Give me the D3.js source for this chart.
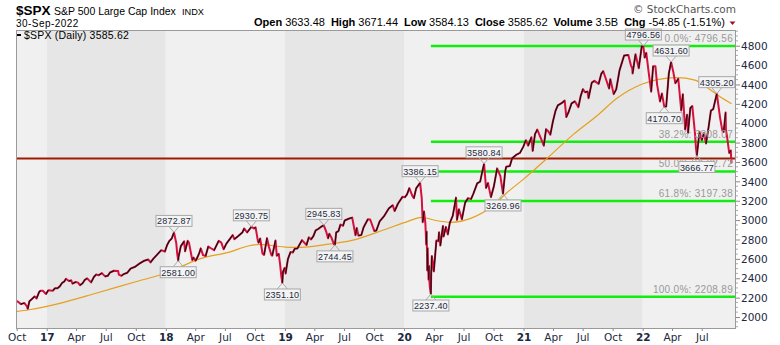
<!DOCTYPE html>
<html><head><meta charset="utf-8">
<script src="https://cdn.jsdelivr.net/npm/d3@7"></script>
<style>body{margin:0;background:#fff;}svg{display:block;}</style>
</head><body>
<svg id="c" width="780" height="345"></svg>
<script>
// ---------- DATA ----------
const priceDates = ["2016-09-29","2016-09-30","2016-10-07","2016-10-14","2016-10-21","2016-10-25","2016-11-01","2016-11-04","2016-11-09","2016-11-15","2016-11-25","2016-12-01","2016-12-09","2016-12-13","2016-12-20","2016-12-30",
"2017-01-06","2017-01-13","2017-01-20","2017-01-26","2017-02-03","2017-02-10","2017-02-17","2017-02-24","2017-03-01","2017-03-10","2017-03-17","2017-03-21","2017-03-31","2017-04-07","2017-04-13","2017-04-21","2017-04-28","2017-05-05","2017-05-17","2017-05-26","2017-06-02","2017-06-09","2017-06-19","2017-06-29","2017-07-07","2017-07-14","2017-07-26","2017-08-08","2017-08-10","2017-08-18","2017-08-25","2017-09-05","2017-09-15","2017-09-29","2017-10-13","2017-10-27","2017-11-08","2017-11-15","2017-11-24","2017-12-04","2017-12-18","2017-12-29",
"2018-01-05","2018-01-12","2018-01-19","2018-01-26","2018-02-02","2018-02-05","2018-02-08","2018-02-09","2018-02-16","2018-02-26","2018-03-01","2018-03-09","2018-03-13","2018-03-23","2018-03-27","2018-04-02","2018-04-06","2018-04-13","2018-04-18","2018-04-25","2018-05-03","2018-05-11","2018-05-18","2018-05-29","2018-06-12","2018-06-20","2018-06-27","2018-07-06","2018-07-17","2018-07-25","2018-07-30","2018-08-10","2018-08-24","2018-08-29","2018-09-07","2018-09-20","2018-09-28","2018-10-03","2018-10-10","2018-10-12","2018-10-17","2018-10-24","2018-10-29","2018-11-07","2018-11-13","2018-11-20","2018-11-23","2018-12-03","2018-12-07","2018-12-13","2018-12-17","2018-12-21","2018-12-24","2018-12-26","2018-12-31",
"2019-01-03","2019-01-10","2019-01-18","2019-01-25","2019-01-31","2019-02-08","2019-02-22","2019-03-08","2019-03-15","2019-03-22","2019-03-29","2019-04-05","2019-04-12","2019-04-23","2019-04-30","2019-05-07","2019-05-13","2019-05-17","2019-05-23","2019-05-31","2019-06-03","2019-06-07","2019-06-14","2019-06-20","2019-06-28","2019-07-03","2019-07-15","2019-07-26","2019-08-05","2019-08-09","2019-08-14","2019-08-23","2019-08-30","2019-09-12","2019-09-19","2019-10-02","2019-10-08","2019-10-18","2019-10-31","2019-11-15","2019-11-27","2019-12-03","2019-12-13","2019-12-27",
"2020-01-03","2020-01-10","2020-01-17","2020-01-27","2020-01-31","2020-02-07","2020-02-19","2020-02-24","2020-02-27","2020-03-02","2020-03-06","2020-03-09","2020-03-10","2020-03-12","2020-03-13","2020-03-16","2020-03-17","2020-03-18","2020-03-20","2020-03-23","2020-03-24","2020-03-26","2020-04-01","2020-04-09","2020-04-15","2020-04-17","2020-04-21","2020-04-29","2020-05-01","2020-05-08","2020-05-14","2020-05-20","2020-05-29","2020-06-08","2020-06-11","2020-06-17","2020-06-26","2020-07-06","2020-07-15","2020-07-24","2020-07-31","2020-08-12","2020-08-21","2020-08-28","2020-09-02","2020-09-08","2020-09-14","2020-09-23","2020-10-02","2020-10-12","2020-10-22","2020-10-30","2020-11-06","2020-11-09","2020-11-20","2020-11-27","2020-12-09","2020-12-21","2020-12-31",
"2021-01-08","2021-01-15","2021-01-25","2021-01-29","2021-02-05","2021-02-12","2021-02-25","2021-03-04","2021-03-11","2021-03-18","2021-03-24","2021-04-01","2021-04-09","2021-04-16","2021-04-29","2021-05-07","2021-05-12","2021-05-19","2021-05-28","2021-06-07","2021-06-18","2021-06-25","2021-07-02","2021-07-08","2021-07-16","2021-07-19","2021-07-29","2021-08-06","2021-08-19","2021-08-27","2021-09-02","2021-09-10","2021-09-20","2021-09-24","2021-10-04","2021-10-12","2021-10-22","2021-11-05","2021-11-18","2021-11-26","2021-11-30","2021-12-01","2021-12-10","2021-12-20","2021-12-29",
"2022-01-03","2022-01-07","2022-01-12","2022-01-19","2022-01-27","2022-02-02","2022-02-09","2022-02-14","2022-02-23","2022-03-01","2022-03-08","2022-03-14","2022-03-22","2022-03-29","2022-04-05","2022-04-11","2022-04-20","2022-04-29","2022-05-04","2022-05-11","2022-05-17","2022-05-20","2022-05-27","2022-06-02","2022-06-10","2022-06-13","2022-06-16","2022-06-24","2022-07-01","2022-07-08","2022-07-14","2022-07-22","2022-07-29","2022-08-05","2022-08-16","2022-08-26","2022-09-02","2022-09-06","2022-09-12","2022-09-13","2022-09-16","2022-09-23","2022-09-28","2022-09-29","2022-09-30"];
const priceCloses = [2151,2168,2153,2133,2141,2143,2111,2085,2163,2180,2213,2191,2259,2271,2270,2238,
2277,2274,2271,2296,2297,2316,2351,2367,2395,2372,2378,2344,2362,2355,2328,2348,2384,2399,2357,2415,2439,2431,2453,2419,2425,2459,2477,2474,2438,2425,2443,2457,2500,2519,2553,2581,2594,2564,2602,2639,2690,2674,
2743,2786,2810,2873,2762,2649,2581,2620,2732,2780,2678,2786,2765,2588,2613,2582,2604,2656,2708,2639,2630,2728,2712,2690,2786,2767,2699,2760,2809,2846,2803,2833,2875,2914,2872,2931,2914,2925,2786,2767,2810,2656,2641,2814,2722,2642,2633,2790,2633,2651,2546,2417,2351,2468,2507,
2448,2597,2671,2665,2704,2708,2793,2743,2822,2801,2834,2893,2907,2934,2946,2884,2812,2860,2822,2752,2744,2873,2887,2954,2942,2996,3014,3026,2844,2919,2840,2847,2926,3009,3006,2887,2893,2986,3038,3120,3154,3093,3169,3240,
3235,3265,3330,3244,3226,3328,3386,3226,2979,3090,2972,2747,2882,2481,2711,2386,2529,2398,2305,2237,2447,2630,2471,2790,2783,2875,2737,2940,2830,2930,2852,2972,3044,3232,3002,3113,3009,3180,3227,3216,3271,3380,3397,3508,3581,3332,3383,3237,3348,3534,3453,3270,3510,3551,3558,3638,3673,3694,3756,
3825,3768,3855,3714,3887,3934,3829,3768,3939,3915,3881,4020,4129,4185,4211,4233,4063,4116,4204,4226,4166,4281,4352,4320,4327,4258,4419,4437,4406,4509,4537,4459,4358,4455,4300,4351,4545,4698,4704,4595,4567,4513,4712,4568,4793,
4797,4677,4726,4533,4326,4589,4587,4401,4225,4306,4171,4173,4512,4632,4525,4413,4459,4132,4300,3935,4088,3901,4158,4177,3901,3750,3667,3912,3825,3899,3790,3962,4130,4145,4305,4058,3924,3909,4110,3932,3873,3693,3719,3640,3586];

// 200-day moving average
const maDates = ["2016-09-29","2016-11-08","2017-02-10","2017-06-01","2017-10-01","2017-12-31","2018-04-15","2018-07-20","2018-09-10","2018-10-15","2018-12-01","2019-01-15","2019-02-20","2019-05-01","2019-07-25","2019-11-01","2020-01-15","2020-02-25","2020-04-01","2020-05-25","2020-07-25","2020-09-30","2020-11-10","2020-12-31","2021-03-15","2021-06-01","2021-08-15","2021-10-15","2021-12-31","2022-02-15","2022-04-15","2022-06-10","2022-07-25","2022-08-25","2022-09-30"];
const maValues = [2055,2075,2141,2245,2364,2451,2600,2675,2733,2750,2733,2719,2719,2745,2790,2900,2990,3029,3001,2977,3020,3150,3280,3420,3640,3880,4080,4260,4405,4450,4470,4445,4350,4275,4200];

const fibPcts = ["0.0%","38.2%","50.0%","61.8%","100.0%"];
const fibLevels = [4796.56,3808.07,3502.72,3197.38,2208.89];
const fibStart = "2020-03-23";
const hLineLevel = 3636.87;

const annDates = ["2018-01-26","2018-02-08","2018-09-20","2018-12-24","2019-04-30","2019-06-03","2020-02-19","2020-03-23","2020-09-02","2020-10-30","2022-01-03","2022-03-08","2022-03-29","2022-06-16","2022-08-16"];
const annValues = [2872.87,2581.00,2930.75,2351.10,2945.83,2744.45,3386.15,2237.40,3580.84,3269.96,4796.56,4170.70,4631.60,3666.77,4305.20];
const annSide = ["up","down","up","down","up","down","up","down","up","down","up","down","up","down","up"];

const yTicks = [2000,2200,2400,2600,2800,3000,3200,3400,3600,3800,4000,4200,4400,4600,4800];
const xTickDates = ["2016-10-01","2017-01-01","2017-04-01","2017-07-01","2017-10-01","2018-01-01","2018-04-01","2018-07-01","2018-10-01","2019-01-01","2019-04-01","2019-07-01","2019-10-01","2020-01-01","2020-04-01","2020-07-01","2020-10-01","2021-01-01","2021-04-01","2021-07-01","2021-10-01","2022-01-01","2022-04-01","2022-07-01"];
const xTickLabels = ["Oct","17","Apr","Jul","Oct","18","Apr","Jul","Oct","19","Apr","Jul","Oct","20","Apr","Jul","Oct","21","Apr","Jul","Oct","22","Apr","Jul"];
const yearBands = [2016,2017,2018,2019,2020,2021,2022];

const headerLabels = ["Open","High","Low","Close","Volume","Chg"];
const headerValues = ["3633.48","3671.44","3584.13","3585.62","3.5B","-54.85 (-1.51%)"];

// ---------- DRAW ----------
const parse = d3.timeParse("%Y-%m-%d");
const svg = d3.select("#c");
const L = 16, R = 736, T = 30, B = 329;
const x = d3.scaleTime().domain([parse("2017-01-01"), parse("2022-01-01")]).range([46.7, 642.7]);
const y = d3.scaleLinear().domain([2000, 4800]).range([317, 45.7]);
const textCol = "#1c2940";
const sans = "Liberation Sans, Arial, sans-serif";

svg.append("clipPath").attr("id","clip").append("rect").attr("x",L).attr("y",T).attr("width",R-L).attr("height",B-T);
const plot = svg.append("g").attr("clip-path","url(#clip)");

// year bands
yearBands.forEach((yr,i)=>{
  const x0 = Math.max(L, x(parse(yr+"-01-01"))), x1 = Math.min(R, x(parse((yr+1)+"-01-01")));
  plot.append("rect").attr("x",x0).attr("y",T).attr("width",x1-x0).attr("height",B-T)
    .attr("fill", i%2===0 ? "#f0f0f0" : "#e6e6e6");
});

// horizontal dark-red line
plot.append("line").attr("x1",L).attr("x2",R).attr("y1",y(hLineLevel)).attr("y2",y(hLineLevel))
  .attr("stroke","#a01a00").attr("stroke-width",2);

// fib lines
fibLevels.forEach((v,i)=>{
  plot.append("line").attr("x1",x(parse(fibStart))).attr("x2",R-1).attr("y1",y(v)).attr("y2",y(v))
    .attr("stroke","#10ee10").attr("stroke-width",2.5);
});

// moving average
const maData = maDates.map((d,i)=>({d:parse(d),v:maValues[i]}));
plot.append("path").datum(maData).attr("fill","none").attr("stroke","#e4a020").attr("stroke-width",1.2)
  .attr("d", d3.line().x(p=>x(p.d)).y(p=>y(p.v)).curve(d3.curveMonotoneX));

// price line: red base, black on up moves
const pd = priceDates.map((d,i)=>({d:parse(d),v:priceCloses[i]}));
const pline = d3.line().x(p=>x(p.d)).y(p=>y(p.v));
plot.append("path").attr("fill","none").attr("stroke","#d4103c").attr("stroke-width",2)
  .attr("stroke-linejoin","round").attr("d", pline(pd));
let runs = [], cur = null;
for (let i=1;i<pd.length;i++){
  const up = pd[i].v >= pd[i-1].v;
  if (!cur || cur.up !== up){ cur = {up, pts:[pd[i-1]]}; runs.push(cur); }
  cur.pts.push(pd[i]);
}
runs.filter(r=>r.up).forEach(r=>{
  plot.append("path").attr("fill","none").attr("stroke","#111")
    .attr("stroke-width",1.1).attr("stroke-linejoin","round").attr("d", pline(r.pts));
});

// fib labels
fibLevels.forEach((v,i)=>{
  plot.append("text").attr("x",R-3).attr("y",y(v)-4).attr("text-anchor","end")
    .attr("font-family",sans).attr("font-size",10).attr("fill","#999")
    .attr("letter-spacing",0.3)
    .text(fibPcts[i]+": "+d3.format(".2f")(v));
});

// annotations
const ag = svg.append("g");
annDates.forEach((d,i)=>{
  const px = x(parse(d)), py = y(annValues[i]);
  const txt = d3.format(".2f")(annValues[i]);
  const w = 36, h = 11, off = 6;
  const by = annSide[i]==="up" ? py - off - h : py + off;
  const edge = annSide[i]==="up" ? by + h : by;
  ag.append("path").attr("d",`M${px-5},${edge} L${px},${py} L${px+5},${edge}`)
    .attr("fill","none").attr("stroke","#aaa").attr("stroke-width",1);
  ag.append("rect").attr("x",px-w/2).attr("y",by).attr("width",w).attr("height",h)
    .attr("fill","#f4f4f4").attr("stroke","#a8a8a8").attr("stroke-width",1);
  ag.append("text").attr("x",px).attr("y",by+h-2).attr("text-anchor","middle")
    .attr("font-family",sans).attr("font-size",9).attr("fill",textCol)
    .attr("letter-spacing",0.2).text(txt);
});

// plot border
svg.append("rect").attr("x",L+0.5).attr("y",T+0.5).attr("width",R-L-1).attr("height",B-T-1)
  .attr("fill","none").attr("stroke","#9a9a9a");

// legend
svg.append("line").attr("x1",L+1).attr("x2",L+5).attr("y1",35).attr("y2",35).attr("stroke","#000").attr("stroke-width",2);
svg.append("text").attr("x",24).attr("y",38.5).attr("font-family",sans)
  .attr("font-size",10.5).attr("fill","#000").attr("letter-spacing",0.2)
  .text("$SPX (Daily) 3585.62");

// y axis
const yAxis = d3.axisRight(y).tickValues(yTicks).tickSize(4).tickFormat(d3.format("d"));
const yg = svg.append("g").attr("transform",`translate(${R},0)`).call(yAxis);
yg.select(".domain").remove();
yg.selectAll("line").attr("stroke","#888");
yg.selectAll("text").attr("font-family","DejaVu Sans, sans-serif").attr("font-size",10.5)
  .attr("fill",textCol).attr("x",5).attr("dy","0.35em");
const minor = d3.range(1900, 4960, 50).filter(v=>v%200!==0);
svg.append("g").selectAll("line").data(minor).join("line")
  .attr("x1",R).attr("x2",R+2).attr("y1",v=>y(v)).attr("y2",v=>y(v)).attr("stroke","#aaa");

// x axis
const xAxis = d3.axisBottom(x).tickValues(xTickDates.map(parse)).tickSize(2)
  .tickFormat((d,i)=>xTickLabels[i]);
const xg = svg.append("g").attr("transform",`translate(0,${B})`).call(xAxis);
xg.select(".domain").remove();
xg.selectAll("line").attr("stroke","#888");
xg.selectAll("text").attr("font-family","DejaVu Sans, sans-serif").attr("font-size",10.5)
  .attr("fill",textCol).attr("y",5).attr("dy","0.71em")
  .attr("font-weight",(d,i)=>/^\d+$/.test(xTickLabels[i])?"bold":"normal");

// header
svg.append("text").attr("x",16).attr("y",14.5).attr("font-family",sans).attr("font-weight","bold")
  .attr("font-size",13.5).text("$SPX");
svg.append("text").attr("x",54).attr("y",14.5).attr("font-family",sans).attr("font-size",10.5)
  .text("S&P 500 Large Cap Index");
svg.append("text").attr("x",182).attr("y",14.5).attr("font-family",sans).attr("font-size",9.2)
  .text("INDX");
svg.append("text").attr("x",16).attr("y",26.5).attr("font-family",sans)
  .attr("font-size",10).attr("letter-spacing",0.45).text("30-Sep-2022");

const h2 = svg.append("text").attr("x",725).attr("y",26).attr("text-anchor","end")
  .attr("font-family",sans).attr("font-size",11).attr("fill","#000");
headerLabels.forEach((lab,i)=>{
  h2.append("tspan").attr("font-weight","bold").attr("dx", i===0?0:6).text(lab);
  h2.append("tspan").attr("dx",3).text(headerValues[i]);
});
svg.append("path").attr("d","M729.5,21.5 L735.5,21.5 L732.5,25 Z").attr("fill","#a0102a");

svg.append("text").attr("x",736).attr("y",13).attr("text-anchor","end")
  .attr("font-family","DejaVu Sans, sans-serif").attr("font-size",10.5).attr("fill","#555")
  .text("© StockCharts.com");
</script>
</body></html>
